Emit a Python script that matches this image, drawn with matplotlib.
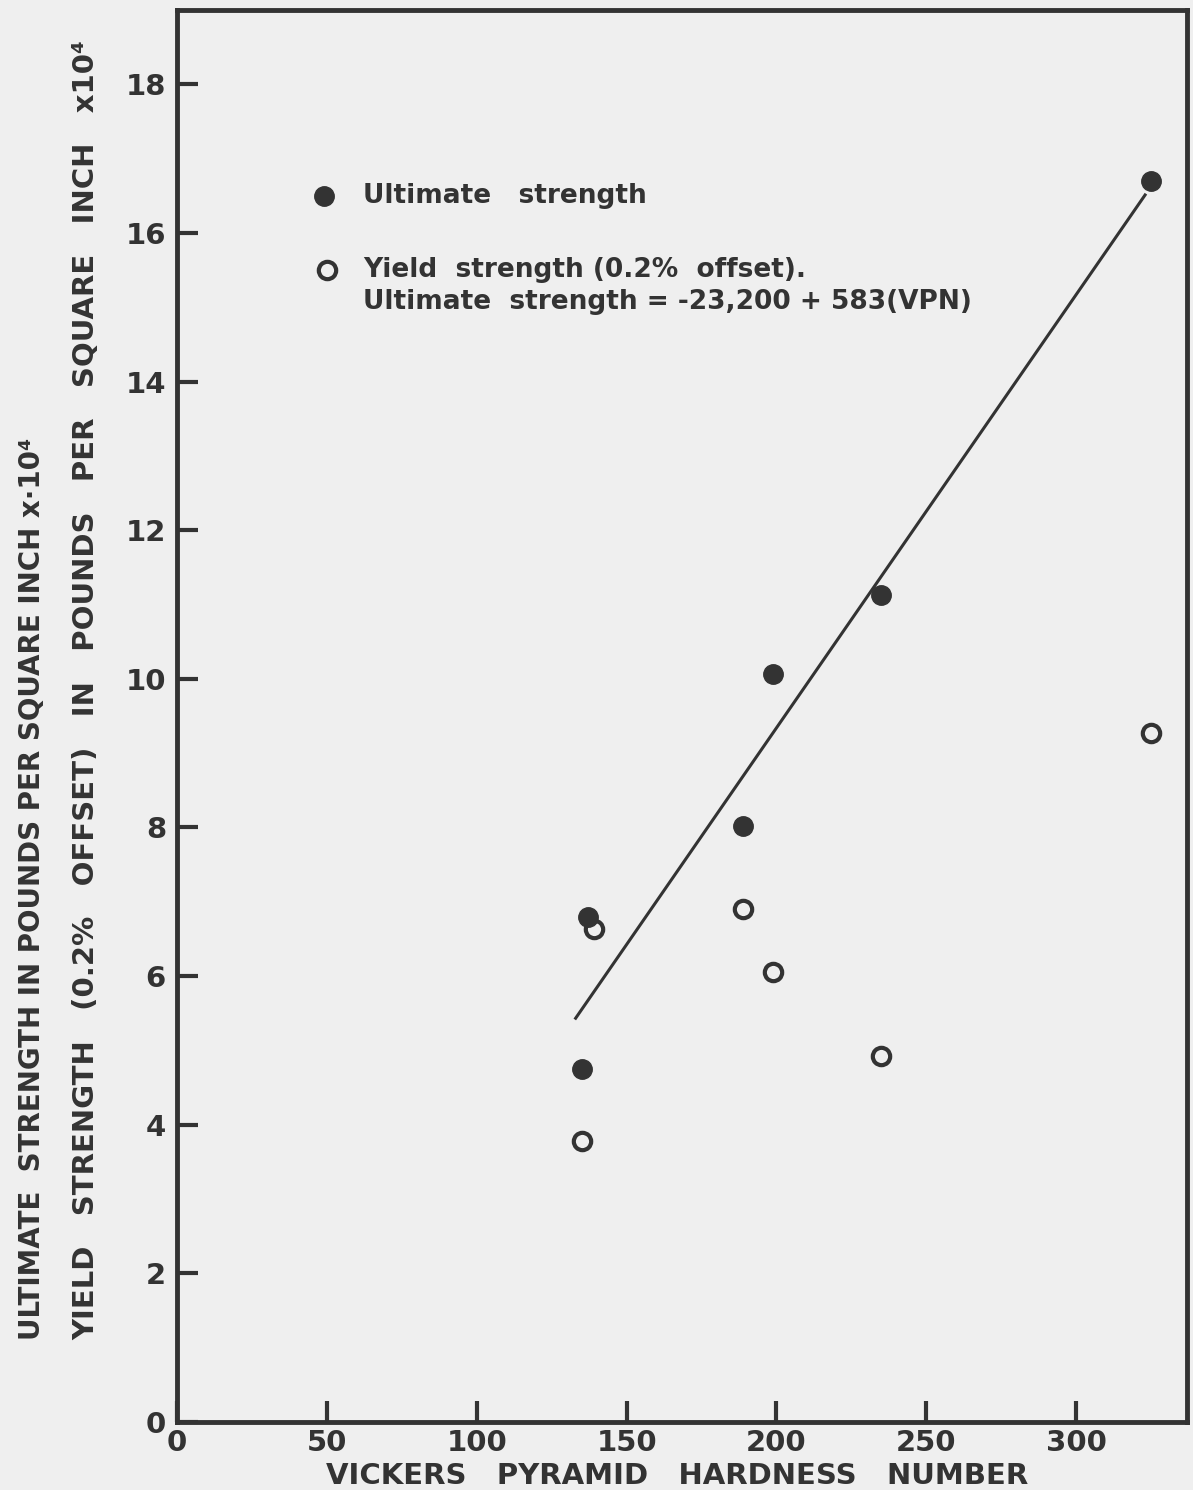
import matplotlib.pyplot as plt

# Vickers pyramid hardness vs strength (x 10^4 psi)
vpn_ult = [137, 135, 189, 199, 235, 325]
ultimate = [6.8, 4.75, 8.02, 10.06, 11.13, 16.7]
vpn_yld = [139, 135, 189, 199, 235, 325]
yield_s = [6.64, 3.78, 6.9, 6.05, 4.92, 9.27]

# fitted line: ultimate = -23,200 + 583(VPN)
fit_x = [133, 323]
fit_y = [(-23200 + 583 * v) / 1e4 for v in fit_x]

xticks = [0, 50, 100, 150, 200, 250, 300]
yticks = [0, 2, 4, 6, 8, 10, 12, 14, 16, 18]

ink = '#333333'
bg = '#efefef'
plt.rcParams['font.family'] = ['DejaVu Sans']
plt.rcParams['font.weight'] = 'bold'

fig = plt.figure(figsize=(11.93, 14.9), dpi=100, facecolor=bg)
ax = fig.add_axes([0.1484, 0.0456, 0.8466, 0.9477], facecolor=bg)

ax.plot(fit_x, fit_y, '-', color=ink, lw=2.2)
ax.plot(vpn_ult, ultimate, 'o', color=ink, ms=14, mec=ink)
ax.plot(vpn_yld, yield_s, 'o', mfc='none', mec=ink, mew=3, ms=12.5)

ax.set_xlim(0, 337)
ax.set_ylim(0, 19)
ax.set_xticks(xticks)
ax.set_yticks(yticks)
ax.set_xticklabels([str(t) for t in xticks], fontsize=21, color=ink)
ax.set_yticklabels([str(t) for t in yticks], fontsize=21, color=ink)
ax.tick_params(direction='in', length=15, width=3, color=ink)
ax.tick_params(axis='y', pad=8)
ax.tick_params(axis='x', pad=5)
for s in ax.spines.values():
    s.set_linewidth(3.5)
    s.set_color(ink)

# legend drawn by hand
ax.plot([49], [16.5], 'o', color=ink, ms=14)
ax.plot([50], [15.5], 'o', mfc='none', mec=ink, mew=3, ms=12.5)
ax.text(62, 16.5, 'Ultimate   strength', fontsize=19, color=ink, va='center')
ax.text(62, 15.5, 'Yield  strength (0.2%  offset).', fontsize=19, color=ink, va='center')
ax.text(62, 15.07, 'Ultimate  strength = -23,200 + 583(VPN)', fontsize=19, color=ink, va='center')

fig.text(0.568, 0.004, 'VICKERS   PYRAMID   HARDNESS   NUMBER', fontsize=21,
         color=ink, ha='center', va='baseline')
fig.text(0.027, 0.1007, 'ULTIMATE  STRENGTH IN POUNDS PER SQUARE INCH x·10⁴',
         fontsize=20, color=ink, rotation=90, ha='center', va='bottom')
fig.text(0.072, 0.1007, 'YIELD   STRENGTH   (0.2%   OFFSET)   IN   POUNDS   PER   SQUARE   INCH   x10⁴',
         fontsize=21, color=ink, rotation=90, ha='center', va='bottom')

fig.savefig('out.png', dpi=100, facecolor=bg)
